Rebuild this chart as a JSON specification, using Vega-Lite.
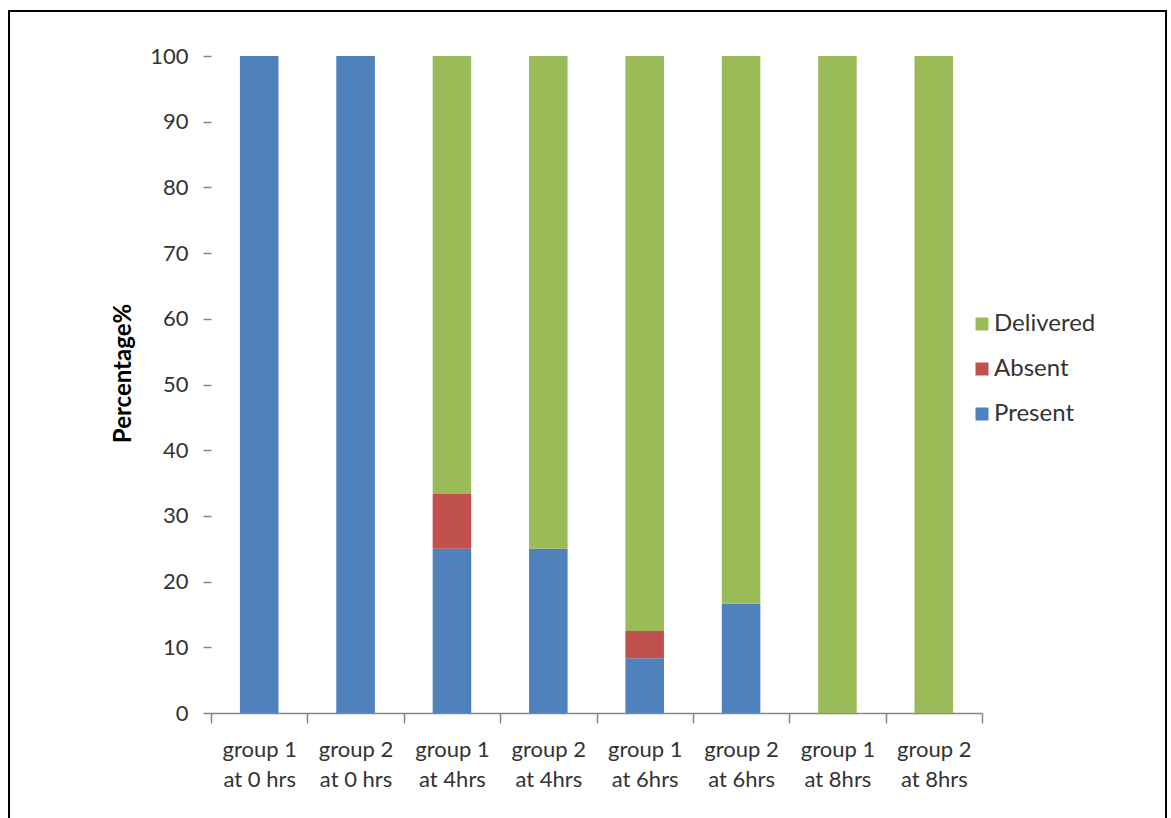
{
  "$schema": "https://vega.github.io/schema/vega-lite/v6.json",
  "autosize": "none",
  "padding": {"left": 9, "top": 11, "right": 5, "bottom": -5},
  "width": 1157,
  "height": 812,
  "background": "white",
  "config": {
    "view": {"stroke": "black", "strokeWidth": 2},
    "font": "Lato"
  },
  "data": {
    "values": [
      {"category": "group 1|at 0 hrs", "status": "Present", "stackorder": 1, "value": 100},
      {"category": "group 2|at 0 hrs", "status": "Present", "stackorder": 1, "value": 100},
      {"category": "group 1|at 4hrs", "status": "Present", "stackorder": 1, "value": 25},
      {"category": "group 1|at 4hrs", "status": "Absent", "stackorder": 2, "value": 8.33},
      {"category": "group 1|at 4hrs", "status": "Delivered", "stackorder": 3, "value": 66.67},
      {"category": "group 2|at 4hrs", "status": "Present", "stackorder": 1, "value": 25},
      {"category": "group 2|at 4hrs", "status": "Delivered", "stackorder": 3, "value": 75},
      {"category": "group 1|at 6hrs", "status": "Present", "stackorder": 1, "value": 8.33},
      {"category": "group 1|at 6hrs", "status": "Absent", "stackorder": 2, "value": 4.17},
      {"category": "group 1|at 6hrs", "status": "Delivered", "stackorder": 3, "value": 87.5},
      {"category": "group 2|at 6hrs", "status": "Present", "stackorder": 1, "value": 16.67},
      {"category": "group 2|at 6hrs", "status": "Delivered", "stackorder": 3, "value": 83.33},
      {"category": "group 1|at 8hrs", "status": "Delivered", "stackorder": 3, "value": 100},
      {"category": "group 2|at 8hrs", "status": "Delivered", "stackorder": 3, "value": 100}
    ]
  },
  "mark": {"type": "bar", "width": {"band": 0.4}},
  "encoding": {
    "x": {
      "field": "category",
      "type": "nominal",
      "sort": null,
      "scale": {"range": [202, 973], "paddingInner": 0, "paddingOuter": 0},
      "axis": {
        "title": null,
        "labelExpr": "split(datum.label, '|')",
        "labelAngle": 0,
        "labelFont": "Lato",
        "labelFontSize": 22,
        "labelLineHeight": 30,
        "labelPadding": 16,
        "labelColor": "#333333",
        "domainColor": "#868686",
        "domainWidth": 1.5,
        "tickColor": "#868686",
        "tickWidth": 1.5,
        "tickSize": 10,
        "tickBand": "extent",
        "grid": false,
        "offset": -110
      }
    },
    "y": {
      "field": "value",
      "type": "quantitative",
      "stack": "zero",
      "scale": {"domain": [0, 100], "range": [702, 45], "nice": false},
      "axis": {
        "title": "Percentage%",
        "titleFont": "Lato",
        "titleFontWeight": "bold",
        "titleFontSize": 24,
        "titleColor": "#000000",
        "titlePadding": 14,
        "titleY": 362,
        "values": [0, 10, 20, 30, 40, 50, 60, 70, 80, 90, 100],
        "domain": false,
        "grid": false,
        "tickSize": 8,
        "tickColor": "#868686",
        "tickWidth": 1.5,
        "labelFont": "Lato",
        "labelFontSize": 22,
        "labelColor": "#333333",
        "labelPadding": 15,
        "offset": -202
      }
    },
    "color": {
      "field": "status",
      "type": "nominal",
      "scale": {
        "domain": ["Delivered", "Absent", "Present"],
        "range": ["#9BBB59", "#C0504D", "#4F81BD"]
      },
      "legend": {
        "title": null,
        "orient": "none",
        "legendX": 961,
        "legendY": 301,
        "symbolType": "square",
        "symbolSize": 169,
        "symbolStrokeWidth": 0,
        "labelFont": "Lato",
        "labelFontSize": 24,
        "labelColor": "#333333",
        "labelOffset": 0,
        "rowPadding": 21
      }
    },
    "order": {"field": "stackorder", "type": "quantitative"}
  }
}
